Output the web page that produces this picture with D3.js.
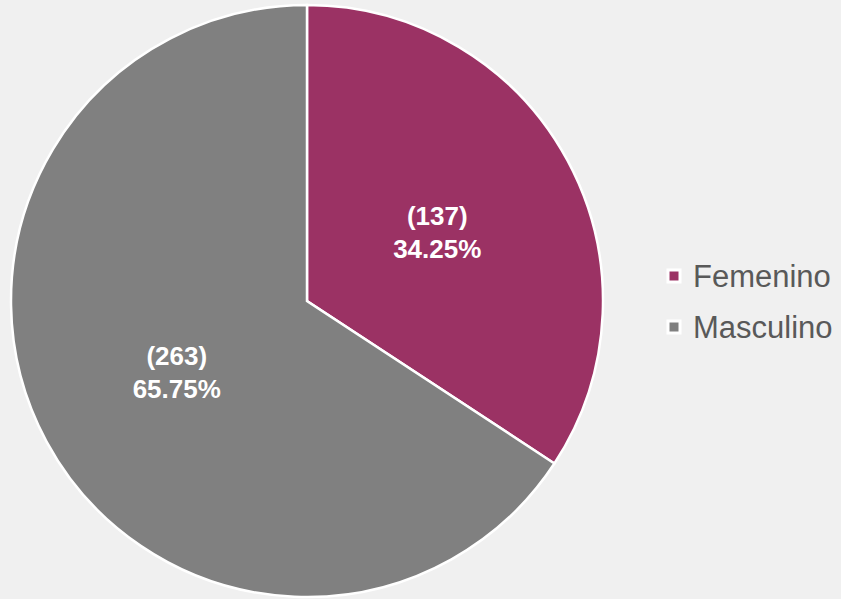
<!DOCTYPE html>
<html>
<head>
<meta charset="utf-8">
<script src="https://d3js.org/d3.v7.min.js"></script>
<style>
  body { margin: 0; background: #f0f0f0; }
  svg { display: block; }
</style>
</head>
<body>
<svg width="841" height="599"></svg>
<script>
  var categories = ["Femenino", "Masculino"];
  var counts = [137, 263];
  var percents = ["34.25%", "65.75%"];
  var colors = ["#9b3264", "#808080"];

  var svg = d3.select("svg");
  var cx = 307, cy = 301, r = 296;

  var pie = d3.pie().sort(null)(counts);
  var arc = d3.arc().innerRadius(0).outerRadius(r);
  var labelArc = d3.arc().innerRadius(r * 0.5).outerRadius(r * 0.5);

  var g = svg.append("g").attr("transform", "translate(" + cx + "," + cy + ")");

  /* slices */
  g.selectAll("path")
    .data(pie)
    .enter().append("path")
    .attr("d", arc)
    .attr("fill", function (d, i) { return colors[i]; })
    .attr("stroke", "#ffffff")
    .attr("stroke-width", 2.5);

  /* data labels */
  var lbl = g.selectAll("text.lbl")
    .data(pie)
    .enter().append("text")
    .attr("class", "lbl")
    .attr("transform", function (d) { return "translate(" + labelArc.centroid(d) + ")"; })
    .attr("text-anchor", "middle")
    .style("font-family", "Liberation Sans, Arial, sans-serif")
    .style("font-weight", "bold")
    .style("font-size", "26px")
    .style("fill", "#ffffff");
  lbl.append("tspan").attr("x", 0).attr("y", -6).text(function (d, i) { return "(" + counts[i] + ")"; });
  lbl.append("tspan").attr("x", 0).attr("y", 27).text(function (d, i) { return percents[i]; });

  /* legend */
  var leg = svg.append("g").attr("transform", "translate(668,260)");
  var item = leg.selectAll("g")
    .data(categories)
    .enter().append("g")
    .attr("transform", function (d, i) { return "translate(0," + (i * 51) + ")"; });
  item.append("rect")
    .attr("x", 0).attr("y", 10).attr("width", 12).attr("height", 12)
    .attr("fill", function (d, i) { return colors[i]; })
    .attr("stroke", "#ffffff")
    .attr("stroke-width", 3);
  item.append("text")
    .attr("x", 25).attr("y", 27)
    .style("font-family", "Liberation Sans, Arial, sans-serif")
    .style("font-size", "31px")
    .style("fill", "#595959")
    .text(function (d) { return d; });
</script>
</body>
</html>
